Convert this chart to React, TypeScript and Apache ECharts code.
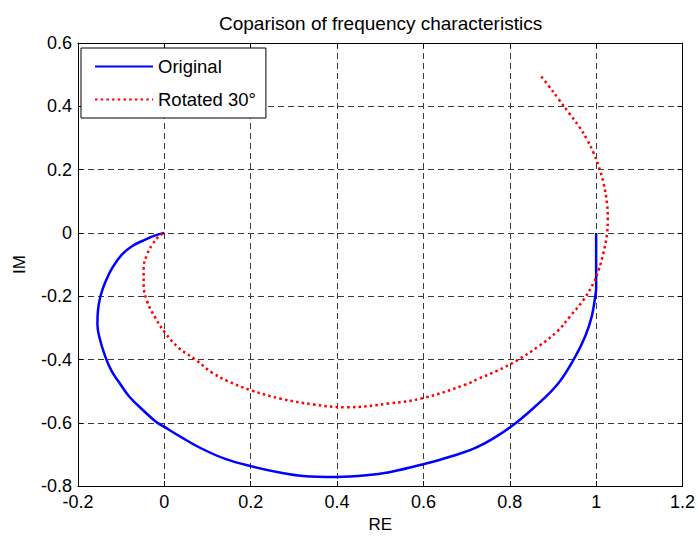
import React, { useEffect, useRef } from "react";
import * as echarts from "echarts";

const titleText = "Coparison of frequency characteristics";
const xTicks = [-0.2, 1.2, 0.2];
const yTicks = [-0.8, 0.6, 0.2];

const originalRe = [1.0, 1.0, 0.998, 0.99, 0.975, 0.952, 0.913, 0.86, 0.8, 0.729, 0.667, 0.602, 0.521, 0.468, 0.398, 0.321, 0.27, 0.2, 0.141, 0.087, 0.041, 0.0, -0.021, -0.051, -0.082, -0.105, -0.122, -0.137, -0.15, -0.155, -0.154, -0.148, -0.136, -0.121, -0.098, -0.075, -0.044, -0.021, 0.0];
const originalIm = [0.0, -0.174, -0.2, -0.263, -0.326, -0.39, -0.474, -0.547, -0.615, -0.674, -0.705, -0.73, -0.756, -0.766, -0.771, -0.768, -0.758, -0.737, -0.714, -0.682, -0.647, -0.613, -0.595, -0.558, -0.516, -0.472, -0.437, -0.39, -0.332, -0.29, -0.248, -0.2, -0.153, -0.111, -0.068, -0.042, -0.021, -0.008, 0.0];

const rotatedRe = [0.873, 0.89, 0.913, 0.937, 0.96, 0.979, 0.994, 1.006, 1.017, 1.025, 1.027, 1.025, 1.017, 1.006, 0.994, 0.971, 0.94, 0.91, 0.867, 0.814, 0.77, 0.729, 0.698, 0.602, 0.521, 0.421, 0.345, 0.27, 0.2, 0.148, 0.11, 0.072, 0.033, 0.002, -0.021, -0.04, -0.048, -0.048, -0.04, -0.028, -0.013, 0.0];
const rotatedIm = [0.494, 0.465, 0.423, 0.379, 0.337, 0.295, 0.253, 0.21, 0.158, 0.095, 0.042, -0.005, -0.063, -0.116, -0.158, -0.211, -0.263, -0.311, -0.358, -0.405, -0.436, -0.46, -0.479, -0.521, -0.539, -0.551, -0.542, -0.524, -0.497, -0.469, -0.441, -0.4, -0.363, -0.316, -0.268, -0.216, -0.163, -0.111, -0.068, -0.037, -0.011, 0.0];

const FONT = "'Liberation Sans', Arial, Helvetica, sans-serif";

function pairs(xs: number[], ys: number[]) {
  return xs.map((x, i) => [x, ys[i]]);
}

function fmt(v: number) {
  return String(parseFloat(v.toFixed(1)));
}

export default function App() {
  const ref = useRef<HTMLDivElement>(null);
  useEffect(() => {
    if (!ref.current) return;
    const chart = echarts.init(ref.current, undefined, { renderer: "svg" });
    const gridLine = { show: true, lineStyle: { color: "#3a3a3a", width: 1, type: [6, 4] as any } };
    const axisBase = {
      type: "value" as const,
      axisLine: { show: true, onZero: false, lineStyle: { color: "#000", width: 1 } },
      axisTick: { show: true, inside: true, length: 5, lineStyle: { color: "#000" } },
    };
    chart.setOption({
      animation: false,
      backgroundColor: "#fff",
      title: {
        text: titleText,
        left: 214,
        top: 9,
        textStyle: { fontFamily: FONT, fontSize: 19, fontWeight: "normal", color: "#000" },
      },
      legend: {
        left: 81,
        top: 48,
        orient: "vertical",
        itemWidth: 58,
        itemHeight: 14,
        itemGap: 14,
        padding: [9, 10, 9, 13],
        borderColor: "#000",
        borderWidth: 1,
        backgroundColor: "#fff",
        itemStyle: { opacity: 0 },
        textStyle: { fontFamily: FONT, fontSize: 18.5, color: "#000" },
        data: ["Original", "Rotated 30°"],
      },
      grid: { left: 78, right: 13, top: 43, bottom: 49 },
      xAxis: [
        {
          ...axisBase,
          position: "bottom",
          min: xTicks[0],
          max: xTicks[1],
          interval: xTicks[2],
          splitLine: gridLine,
          name: "RE",
          nameLocation: "middle",
          nameGap: 29,
          nameTextStyle: { fontFamily: FONT, fontSize: 17, color: "#000" },
          axisLabel: { fontFamily: FONT, fontSize: 18, color: "#000", margin: 7, formatter: fmt },
        },
        {
          ...axisBase,
          position: "top",
          min: xTicks[0],
          max: xTicks[1],
          interval: xTicks[2],
          splitLine: { show: false },
          axisLabel: { show: false },
        },
      ],
      yAxis: [
        {
          ...axisBase,
          position: "left",
          min: yTicks[0],
          max: yTicks[1],
          interval: yTicks[2],
          splitLine: gridLine,
          name: "IM",
          nameLocation: "middle",
          nameGap: 50,
          nameTextStyle: { fontFamily: FONT, fontSize: 17, color: "#000" },
          axisLabel: { fontFamily: FONT, fontSize: 18, color: "#000", margin: 6, formatter: fmt },
        },
        {
          ...axisBase,
          position: "right",
          min: yTicks[0],
          max: yTicks[1],
          interval: yTicks[2],
          splitLine: { show: false },
          axisLabel: { show: false },
        },
      ],
      series: [
        {
          name: "Original",
          type: "line",
          data: pairs(originalRe, originalIm),
          symbol: "none",
          showSymbol: false,
          smooth: 0.4,
          color: "#0000ff",
          lineStyle: { color: "#0000ff", width: 2.5 },
          z: 3,
        },
        {
          name: "Rotated 30°",
          type: "line",
          data: pairs(rotatedRe, rotatedIm),
          symbol: "none",
          showSymbol: false,
          smooth: 0.4,
          color: "#ff0000",
          lineStyle: { color: "#ff0000", width: 2.5, type: [2.5, 3.2] as any },
          z: 4,
        },
      ],
    });
    return () => chart.dispose();
  }, []);
  return (
    <div
      ref={ref}
      style={{ position: "fixed", left: 0, top: 0, width: 698, height: 538, background: "#fff" }}
    />
  );
}
